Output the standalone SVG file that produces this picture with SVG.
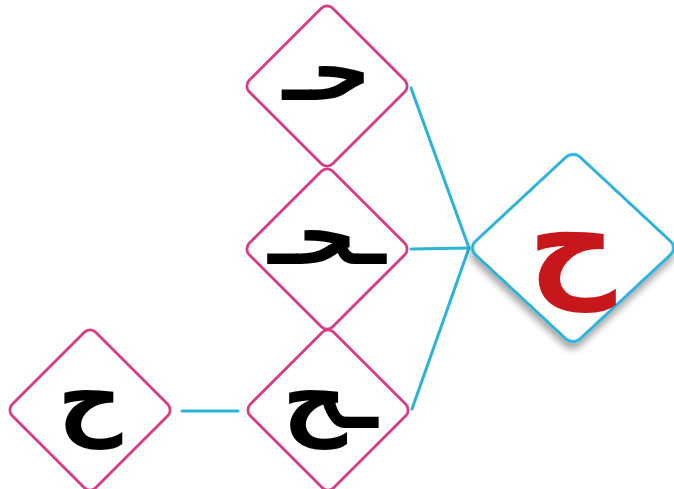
<svg xmlns="http://www.w3.org/2000/svg" width="674" height="489" viewBox="0 0 674 489">
<defs>
<style>
.pink{fill:#fff;stroke:#d63c88;stroke-width:2.8}
.blue{fill:#fff;stroke:#2cb3da;stroke-width:3}
.ln{fill:none;stroke:#2cb3da;stroke-width:3;stroke-linecap:round}
.ar{font-family:"DejaVu Sans",sans-serif;font-weight:bold;text-anchor:middle;fill:#000}
</style>
<filter id="sh" x="-20%" y="-20%" width="150%" height="150%">
<feGaussianBlur in="SourceAlpha" stdDeviation="4"/>
<feOffset dx="4" dy="5" result="b"/>
<feComponentTransfer><feFuncA type="linear" slope="0.35"/></feComponentTransfer>
<feMerge><feMergeNode/><feMergeNode in="SourceGraphic"/></feMerge>
</filter>
</defs>
<rect width="674" height="489" fill="#fff"/>
<g id="connectors">
<line class="ln" x1="182" y1="411" x2="238" y2="411"/>
<line class="ln" x1="411" y1="88" x2="469" y2="248"/>
<line class="ln" x1="411" y1="249" x2="469" y2="248"/>
<line class="ln" x1="412" y1="409" x2="469" y2="248"/>
</g>
<g id="initial">
<rect class="pink" x="-59" y="-59" width="118" height="118" rx="8" transform="translate(327,86) rotate(45)"/>
<text class="ar" x="327" y="100" font-size="84">حـ</text>
</g>
<g id="medial">
<rect class="pink" x="-59" y="-59" width="118" height="118" rx="8" transform="translate(327,249) rotate(45)"/>
<text class="ar" x="327" y="264" font-size="84">ـحـ</text>
</g>
<g id="final">
<rect class="pink" x="-59" y="-59" width="118" height="118" rx="8" transform="translate(328,410) rotate(45)"/>
<text class="ar" x="330" y="428" font-size="90">ـح</text>
</g>
<g id="isolated">
<rect class="pink" x="-59" y="-59" width="118" height="118" rx="8" transform="translate(90,410) rotate(45)"/>
<text class="ar" x="90" y="428" font-size="90">ح</text>
</g>
<g id="main">
<rect class="blue" x="-74" y="-74" width="148" height="148" rx="10" transform="translate(573,248) scale(1,0.93) rotate(45)" vector-effect="non-scaling-stroke" filter="url(#sh)"/>
<text class="ar" x="572" y="283" font-size="122" style="fill:#c8161d">ح</text>
</g>
</svg>
